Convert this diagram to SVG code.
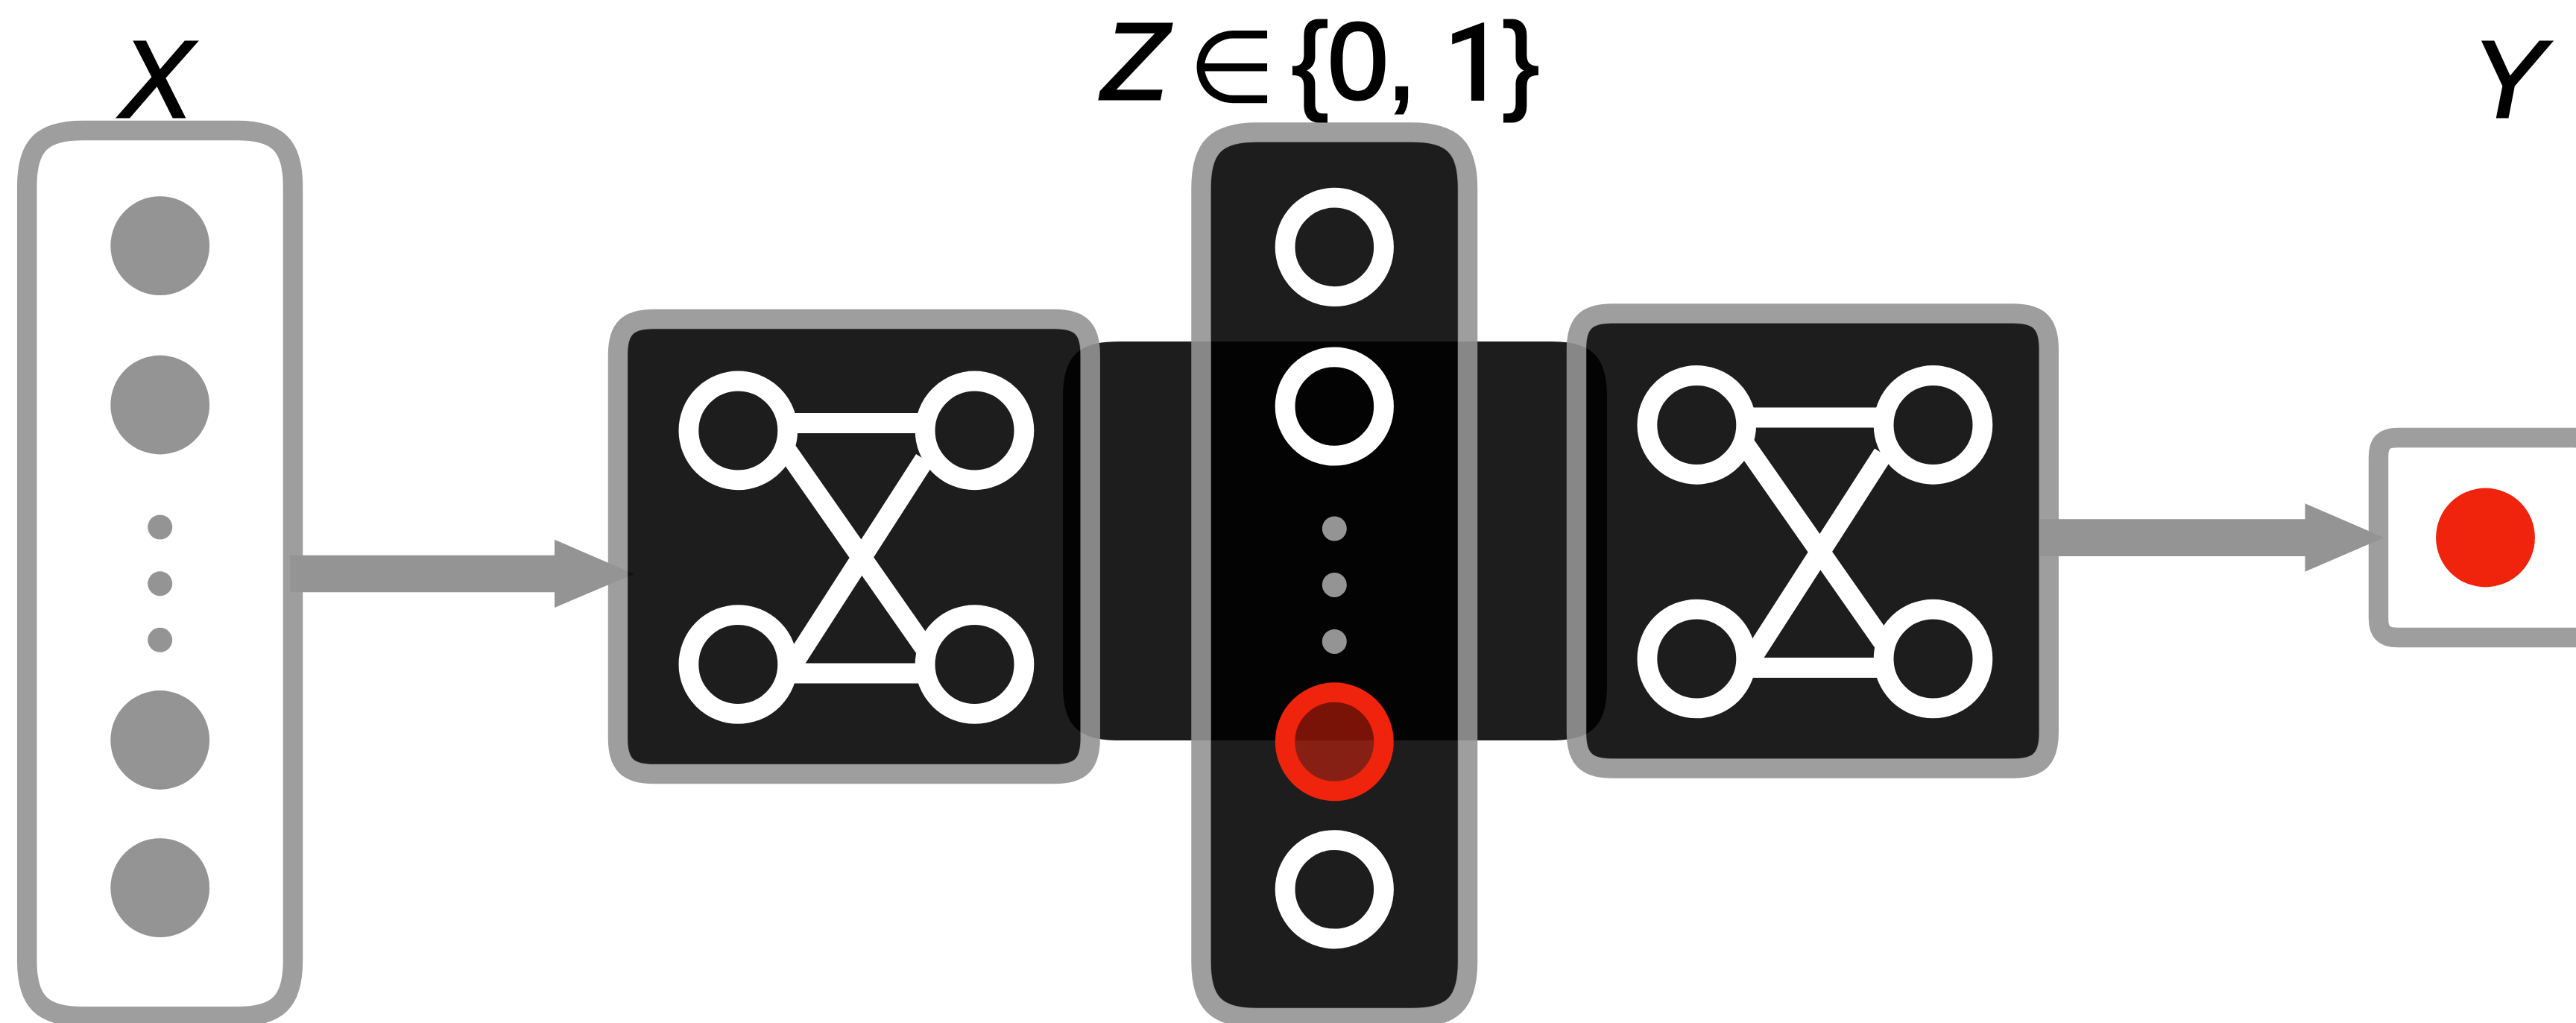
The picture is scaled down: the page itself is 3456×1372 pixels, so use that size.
<svg xmlns="http://www.w3.org/2000/svg" width="3456" height="1372" viewBox="0 0 3456 1372">
<style>
.frame{fill:none;stroke:#949494;stroke-opacity:.9;stroke-width:26.5}
.panel{fill:#000;fill-opacity:.886}
.arrow{fill:#949494}
.solid{fill:#949494}
.ring{fill:none;stroke:#fff;stroke-width:26.8}
.link{fill:none;stroke:#fff;stroke-width:27}
.red{fill:#f0230c}
.label{font-size:147px;fill:#000;stroke:#000;stroke-width:3px;font-family:"Liberation Sans",Arial,sans-serif}
.it{font-style:italic}
.sym{font-family:"DejaVu Sans",sans-serif;font-size:135px;stroke:none}
.one{font-family:Roboto,sans-serif;font-weight:500;stroke:none}
</style>
<defs>
<g id="net">
<path class="link" d="M1050 567.6H1240M1050 903H1245M1054 602L1240 868M1063.5 891.3L1240.4 616.3"/>
<circle class="ring" cx="990.3" cy="577.4" r="66.4"/>
<circle class="ring" cx="1307.5" cy="577.4" r="66.4"/>
<circle class="ring" cx="990.3" cy="891" r="66.4"/>
<circle class="ring" cx="1307.5" cy="891" r="66.4"/>
</g>
<g id="block">
<path class="panel" d="M877 440.5H1414.7C1442.2 440.5 1450.2 448.5 1450.2 476V990C1450.2 1017.5 1442.2 1025.5 1414.7 1025.5H877C849.5 1025.5 841.5 1017.5 841.5 990V476C841.5 448.5 849.5 440.5 877 440.5Z"/>
<path class="frame" d="M877 428H1414.7C1449.7 428 1462.7 441 1462.7 476V990C1462.7 1025 1449.7 1038 1414.7 1038H877C842 1038 829 1025 829 990V476C829 441 842 428 877 428Z"/>
<use href="#net"/>
</g>
</defs>
<rect width="3456" height="1372" fill="#fff"/>
<g id="connectors">
<polygon class="arrow" points="389,744.7 744,744.7 744,723.7 850.7,769.7 744,815 744,794.3 389,794.3"/>
<polygon class="arrow" points="2737,696.3 3092.5,696.3 3092.5,675.3 3198.6,721 3092.5,766.7 3092.5,746 2737,746"/>
</g>
<g id="bridge">
<path class="panel" d="M1501 458H2081C2136 458 2156 478 2156 533V918C2156 973 2136 993 2081 993H1501C1446 993 1426 973 1426 918V533C1426 478 1446 458 1501 458Z"/>
</g>
<g id="input">
<path class="frame" d="M111.2 175H318C373 175 393 195 393 250V1288.3C393 1343.3 373 1363.3 318 1363.3H111.2C56.2 1363.3 36.2 1343.3 36.2 1288.3V250C36.2 195 56.2 175 111.2 175Z"/>
<circle class="solid" cx="214.7" cy="329.6" r="66.4"/>
<circle class="solid" cx="214.7" cy="543" r="66.4"/>
<circle class="solid" cx="214.7" cy="707" r="16.5"/>
<circle class="solid" cx="214.7" cy="782.7" r="16.5"/>
<circle class="solid" cx="214.7" cy="858.3" r="16.5"/>
<circle class="solid" cx="214.7" cy="992.5" r="66.4"/>
<circle class="solid" cx="214.7" cy="1190.7" r="66.4"/>
<text class="label it" x="161" y="157">X</text>
</g>
<g id="encoder"><use href="#block"/></g>
<g id="decoder" transform="translate(1286,-7.5)"><use href="#block"/></g>
<g id="latent">
<path class="panel" d="M1686.5 190H1894C1941.5 190 1956.5 205 1956.5 252.5V1290C1956.5 1337.5 1941.5 1352.5 1894 1352.5H1686.5C1639 1352.5 1624 1337.5 1624 1290V252.5C1624 205 1639 190 1686.5 190Z"/>
<path class="frame" d="M1686.5 177.6H1894C1949 177.6 1969 197.6 1969 252.6V1290C1969 1345 1949 1365 1894 1365H1686.5C1631.5 1365 1611.5 1345 1611.5 1290V252.6C1611.5 197.6 1631.5 177.6 1686.5 177.6Z"/>
<circle class="ring" cx="1790.3" cy="331.4" r="66.2"/>
<circle class="ring" cx="1790.3" cy="545" r="66.2"/>
<circle class="solid" cx="1790.3" cy="709" r="16.5"/>
<circle class="solid" cx="1790.3" cy="784.4" r="16.5"/>
<circle class="solid" cx="1790.3" cy="860.4" r="16.5"/>
<circle cx="1790.3" cy="994.8" r="66.2" fill="#f0230c" fill-opacity=".5" stroke="#f0230c" stroke-width="26.5"/>
<circle class="ring" cx="1790.3" cy="1192.8" r="66.2"/>
<text class="label" y="133"><tspan class="it" x="1478">Z</tspan> <tspan class="sym" y="137" x="1594">∈</tspan> <tspan y="133" x="1733 1781 1860">{0,</tspan> <tspan class="one" y="134.7" x="1936">1</tspan><tspan y="133" x="2016">}</tspan></text>
</g>
<g id="output">
<path class="frame" d="M3217 587H3452C3471 587 3478 594 3478 613V829C3478 848 3471 855 3452 855H3217C3198 855 3191 848 3191 829V613C3191 594 3198 587 3217 587Z"/>
<circle class="red" cx="3334.5" cy="721" r="66.4"/>
<text class="label it" x="3316" y="157">Y</text>
</g>
</svg>
